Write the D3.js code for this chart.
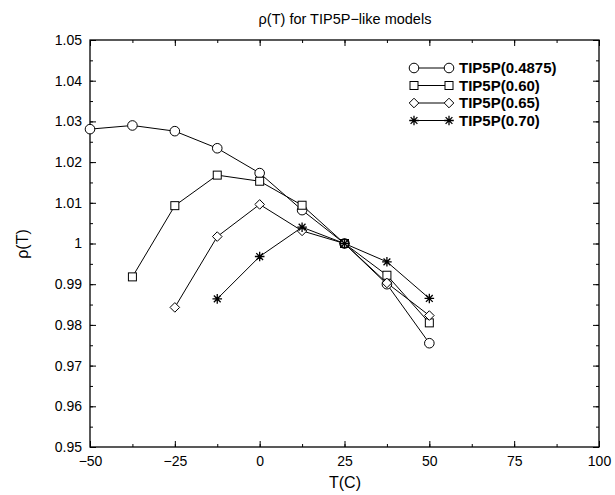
<!DOCTYPE html>
<html><head><meta charset="utf-8">
<script src="https://cdn.jsdelivr.net/npm/d3@7"></script>
<style>body{margin:0;background:#fff}svg{display:block}text{font-family:"Liberation Sans",Arial,sans-serif;fill:#000}</style>
</head><body><svg id="c" width="615" height="495"></svg>
<script>
const temps = [-50, -37.5, -25, -12.5, 0, 12.5, 25, 37.5, 50];
const rho04875 = [1.0281, 1.0290, 1.0276, 1.0234, 1.0173, 1.0082, 1.0000, 0.9900, 0.9755];
const rho060 = [null, 0.9918, 1.0093, 1.0168, 1.0153, 1.0094, 1.0000, 0.9922, 0.9805];
const rho065 = [null, null, 0.9843, 1.0017, 1.0096, 1.0031, 1.0000, 0.9903, 0.9823];
const rho070 = [null, null, null, 0.9864, 0.9968, 1.0040, 1.0000, 0.9955, 0.9865];
const seriesNames = ["TIP5P(0.4875)", "TIP5P(0.60)", "TIP5P(0.65)", "TIP5P(0.70)"];
const xTicks = [-50, -25, 0, 25, 50, 75, 100];
const yTicks = [0.95, 0.96, 0.97, 0.98, 0.99, 1, 1.01, 1.02, 1.03, 1.04, 1.05];

const series = [rho04875, rho060, rho065, rho070].map((vals, i) => ({
  name: seriesNames[i], sym: ["circle","square","diamond","star"][i],
  pts: temps.map((t, j) => ({t, v: vals[j]})).filter(d => d.v != null)
}));

const svg = d3.select("#c");
const L = 90, R = 599, T = 40, B = 447;
const x = d3.scaleLinear().domain([-50, 100]).range([L, R]);
const y = d3.scaleLinear().domain([0.95, 1.05]).range([B, T]);

const fmtY = d => d3.format("~g")(d);
const xMinor = d3.range(-50, 100.01, 12.5);
const yMinor = d3.range(0, 21).map(i => 0.95 + i * 0.005);

function ax(gen, tr, vals, len, fmt) {
  const g = svg.append("g").attr("transform", tr)
    .call(gen.tickValues(vals).tickSize(len).tickSizeOuter(0).tickFormat(fmt));
  g.select(".domain").remove();
  g.selectAll("line").attr("stroke", "#000").attr("stroke-width", 1);
  return g;
}
const none = () => "";
ax(d3.axisBottom(x), `translate(0,${B})`, xMinor, -3, none);
ax(d3.axisTop(x), `translate(0,${T})`, xMinor, -3, none);
ax(d3.axisLeft(y), `translate(${L},0)`, yMinor, -3, none);
ax(d3.axisRight(y), `translate(${R},0)`, yMinor, -3, none);
const gb = ax(d3.axisBottom(x), `translate(0,${B})`, xTicks, -6, d => d3.format("d")(d).replace("-", "\u2212"));
gb.selectAll("text").attr("y", 9).attr("font-size", 14).attr("font-family", "Liberation Sans, Arial, sans-serif");
ax(d3.axisTop(x), `translate(0,${T})`, xTicks, -6, none);
const gl = ax(d3.axisLeft(y), `translate(${L},0)`, yTicks, -6, fmtY);
gl.selectAll("text").attr("x", -8).attr("font-size", 14).attr("font-family", "Liberation Sans, Arial, sans-serif");
ax(d3.axisRight(y), `translate(${R},0)`, yTicks, -6, none);

svg.append("rect").attr("x", L).attr("y", T).attr("width", R - L).attr("height", B - T)
  .attr("fill", "none").attr("stroke", "#000").attr("stroke-width", 1.3);

function drawSym(g, sym, cx, cy) {
  if (sym === "circle") g.append("circle").attr("cx", cx).attr("cy", cy).attr("r", 4.8).attr("fill", "#fff").attr("stroke", "#000");
  else if (sym === "square") g.append("rect").attr("x", cx - 4).attr("y", cy - 4).attr("width", 8).attr("height", 8).attr("fill", "#fff").attr("stroke", "#000");
  else if (sym === "diamond") g.append("path").attr("d", `M${cx},${cy-4.8}L${cx+4.8},${cy}L${cx},${cy+4.8}L${cx-4.8},${cy}Z`).attr("fill", "#fff").attr("stroke", "#000");
  else {
    const r = 4.8; let d = "";
    for (let k = 0; k < 4; k++) { const a = k * Math.PI / 4; d += `M${cx - r*Math.cos(a)},${cy - r*Math.sin(a)}L${cx + r*Math.cos(a)},${cy + r*Math.sin(a)}`; }
    g.append("path").attr("d", d).attr("stroke", "#000").attr("stroke-width", 1.3).attr("fill", "none");
  }
}
const line = d3.line().x(d => x(d.t)).y(d => y(d.v));
const gs = svg.append("g");
series.forEach(s => {
  gs.append("path").attr("d", line(s.pts)).attr("fill", "none").attr("stroke", "#000").attr("stroke-width", 1);
});
series.forEach(s => {
  s.pts.forEach(p => drawSym(gs, s.sym, x(p.t), y(p.v)));
});

const lg = svg.append("g");
series.forEach((s, i) => {
  const yy = 68 + i * 17.5;
  lg.append("line").attr("x1", 414).attr("x2", 449).attr("y1", yy).attr("y2", yy).attr("stroke", "#000");
  drawSym(lg, s.sym, 414, yy);
  drawSym(lg, s.sym, 449, yy);
  lg.append("text").attr("x", 459).attr("y", yy + 5).attr("font-size", 15).attr("font-weight", "bold").text(s.name);
});

svg.append("text").attr("x", 345).attr("y", 24).attr("text-anchor", "middle").attr("font-size", 14.5).text("\u03c1(T) for TIP5P\u2212like models");
svg.append("text").attr("x", 345).attr("y", 488).attr("text-anchor", "middle").attr("font-size", 16).text("T(C)");
svg.append("text").attr("transform", "translate(28,244) rotate(-90)").attr("text-anchor", "middle").attr("font-size", 16).text("\u03c1(T)");
</script></body></html>
